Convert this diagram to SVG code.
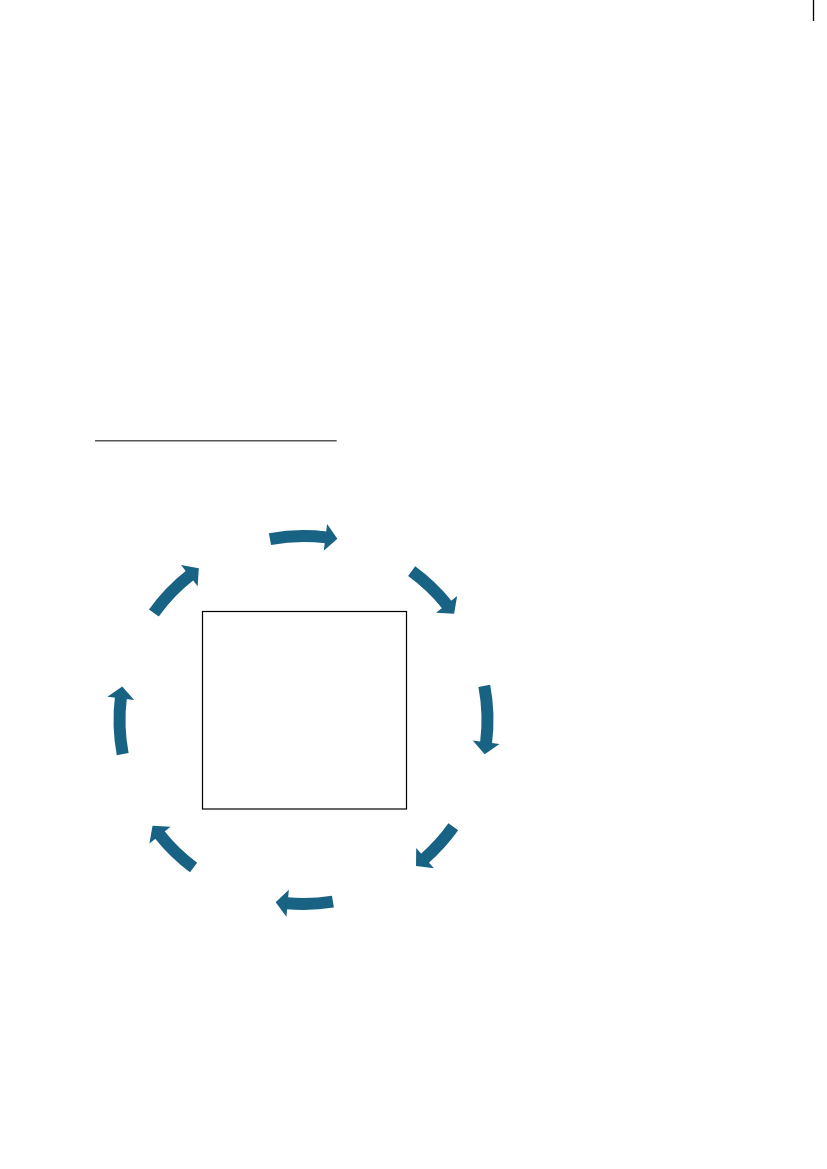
<svg xmlns="http://www.w3.org/2000/svg" width="827" height="1169" viewBox="0 0 827 1169">
  <style>
    .arc { fill: none; stroke: #186283; stroke-width: 12; stroke-linecap: butt; marker-end: url(#head); }
    .frame { fill: #ffffff; stroke: #000000; stroke-width: 1.2; }
  </style>
  <defs>
    <marker id="head" markerUnits="userSpaceOnUse" markerWidth="30" markerHeight="30" refX="0.8" refY="13.5" orient="auto" overflow="visible">
      <path d="M0,0 L12,13.5 L0,27 Z" fill="#186283"/>
    </marker>
  </defs>
  <rect width="827" height="1169" fill="#ffffff"/>
  <line x1="813.5" y1="0" x2="813.5" y2="21" stroke="#000000" stroke-width="1.3"/>
  <line x1="95" y1="440.7" x2="336.7" y2="440.7" stroke="#555555" stroke-width="1.4"/>
  <g id="center-box">
    <rect class="frame" x="202.5" y="611.5" width="204" height="197.5"/>
  </g>
  <g id="connectors">
    <path id="arrow-1" class="arc" d="M269.97,539.08 A184,184 0 0 1 326.24,537.41"/>
    <path id="arrow-2" class="arc" d="M411.65,571.14 A184,184 0 0 1 447.10,604.96"/>
    <path id="arrow-3" class="arc" d="M484.30,685.84 A184,184 0 0 1 486.05,743.06"/>
    <path id="arrow-4" class="arc" d="M453.30,826.85 A184,184 0 0 1 424.46,858.66"/>
    <path id="arrow-5" class="arc" d="M332.92,901.63 A184,184 0 0 1 286.82,903.24"/>
    <path id="arrow-6" class="arc" d="M193.54,867.53 A184,184 0 0 1 159.50,834.54"/>
    <path id="arrow-7" class="arc" d="M122.70,754.16 A184,184 0 0 1 120.87,697.58"/>
    <path id="arrow-8" class="arc" d="M153.89,612.89 A184,184 0 0 1 189.96,575.20"/>
  </g>
</svg>
